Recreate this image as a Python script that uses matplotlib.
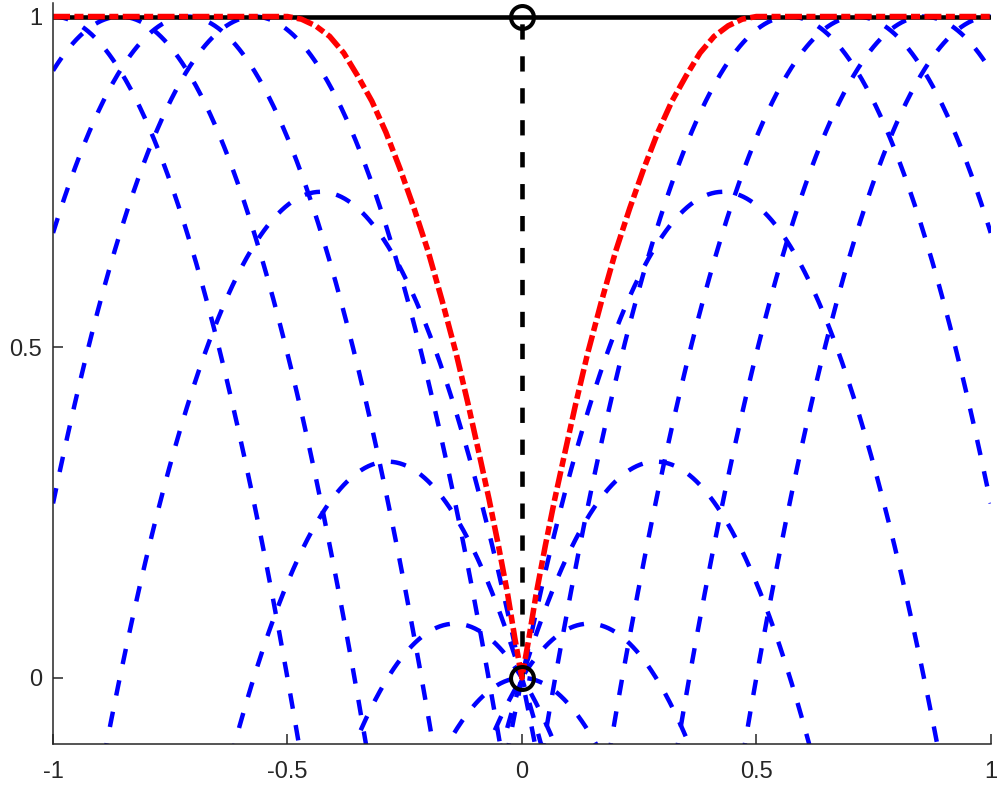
import numpy as np
import matplotlib.pyplot as plt

plt.rcParams['font.family'] = ['Liberation Sans', 'DejaVu Sans']
plt.rcParams['lines.scale_dashes'] = False

# dashed parabolas: vertex positions, common curvature
vertex_x = [-1.0, -0.857, -0.714, -0.571, -0.429, -0.286, -0.143, 0.0,
            0.143, 0.286, 0.429, 0.571, 0.714, 0.857, 1.0]
vertex_y = [1.0, 1.0, 1.0, 1.0, 0.735, 0.327, 0.082, 0.0,
            0.082, 0.327, 0.735, 1.0, 1.0, 1.0, 1.0]
curv = 4.0

# red envelope (symmetric): |x| and y
env_absx = [0.0, 0.015, 0.03, 0.05, 0.07, 0.09, 0.115, 0.14, 0.17, 0.2,
            0.23, 0.26, 0.29, 0.32, 0.35, 0.38, 0.41, 0.44, 0.47, 0.5, 1.0]
env_y = [0.0, 0.06, 0.125, 0.2, 0.27, 0.335, 0.415, 0.49, 0.57, 0.645,
         0.71, 0.77, 0.825, 0.872, 0.91, 0.945, 0.97, 0.986, 0.996, 1.0, 1.0]

# black markers / guide
pts_x = [0.0, 0.0]
pts_y = [0.0, 1.0]
top_x = [-1.0, 1.0]
top_y = [1.0, 1.0]

fig = plt.figure(figsize=(9.97, 7.89), dpi=100)
ax = fig.add_axes([0.0532, 0.057, 0.9405, 0.9388])

xx = np.linspace(-1, 1, 801)
for vx, vy in zip(vertex_x, vertex_y):
    ax.plot(xx, vy - curv * (xx - vx) ** 2, color=(0, 0, 1), lw=3.2,
            linestyle=(0, (11.2, 11.9)), dash_capstyle='butt')

ax.plot(top_x, top_y, color='k', lw=3.3)
ax.plot(pts_x, pts_y, color='k', lw=3.3, linestyle=(0, (11.0, 12.0)),
        dash_capstyle='butt')

ex = np.array(env_absx)
ey = np.array(env_y)
red_x = np.concatenate([-ex[::-1], ex[1:]])
red_y = np.concatenate([ey[::-1], ey[1:]])
ax.plot(red_x, red_y, color=(1, 0, 0), lw=4.0,
        linestyle=(0, (12.2, 3.2, 6.5, 3.2)), dash_capstyle='butt')

ax.plot(pts_x, pts_y, 'o', ms=16.5, mfc='none', mec='k', mew=2.9)

ax.set_xlim(-1, 1)
ax.set_ylim(-0.1, 1.02)
ax.set_xticks([-1, -0.5, 0, 0.5, 1])
ax.set_xticklabels(['-1', '-0.5', '0', '0.5', '1'])
ax.set_yticks([0, 0.5, 1])
ax.set_yticklabels(['0', '0.5', '1'])
for s in ['top', 'right']:
    ax.spines[s].set_visible(False)
for s in ['left', 'bottom']:
    ax.spines[s].set_color('#262626')
    ax.spines[s].set_linewidth(1.1)
ax.tick_params(direction='in', length=7, width=1.1, color='#262626',
               labelsize=17, labelcolor='#262626')
ax.tick_params(axis='x', pad=12)
ax.tick_params(axis='y', pad=8)

fig.savefig('out.png', dpi=100)
